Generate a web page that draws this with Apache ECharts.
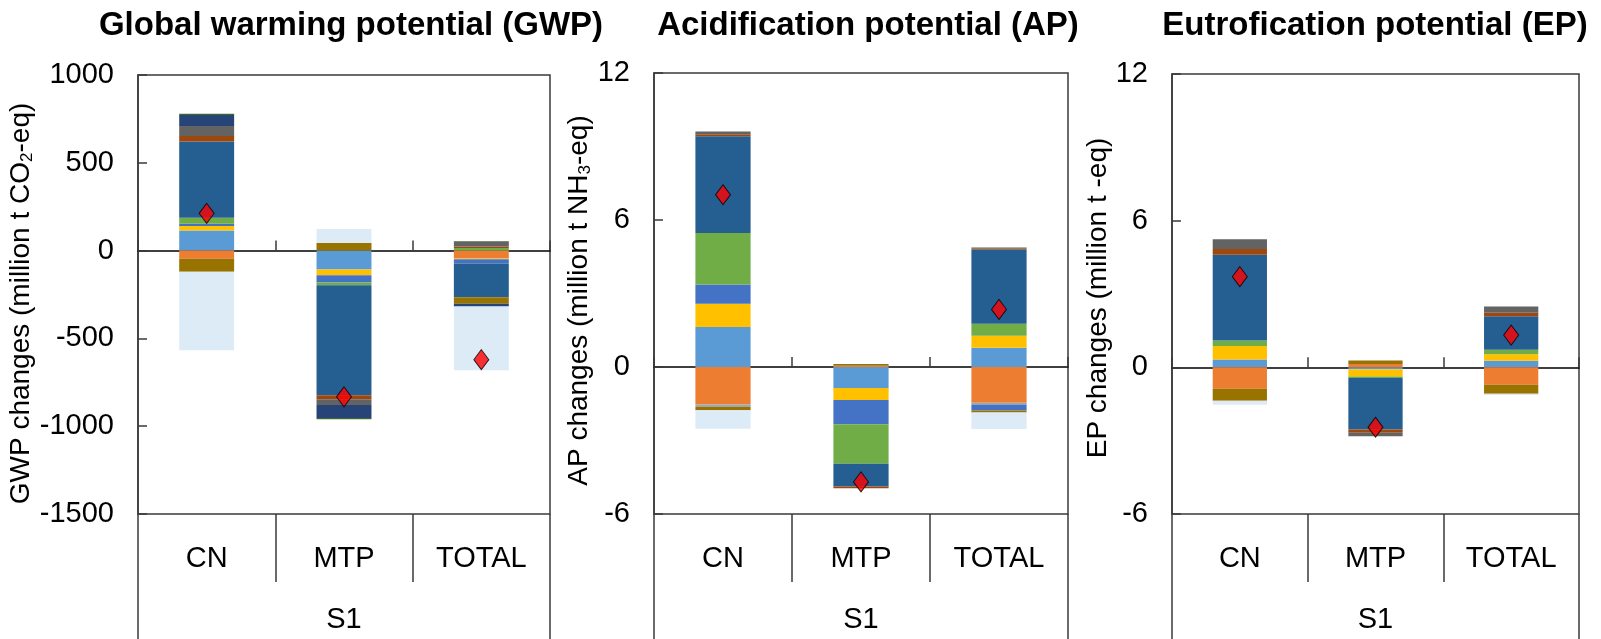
<!DOCTYPE html>
<html>
<head>
<meta charset="utf-8">
<script src="https://cdn.jsdelivr.net/npm/echarts@6/dist/echarts.min.js"></script>
<style>
  html, body { margin: 0; padding: 0; background: #fff; }
  #chart { width: 1601px; height: 639px; }
</style>
</head>
<body>
<div id="chart"></div>
<script>
// Categories and group label along the bottom axis
const categories = ['CN', 'MTP', 'TOTAL'];
const groupLabels = ['S1'];

// Component colours, in stacking order
const componentColors = [
  '#5B9BD5', '#ED7D31', '#A5A5A5', '#FFC000', '#4472C4', '#70AD47',
  '#255E91', '#9E480E', '#636363', '#997300', '#264478', '#43682B', '#DDEBF7'
];

// Global warming potential components (million t CO2-eq), [CN, MTP, TOTAL]
const gwpParts = [
  [114, -108, 0],
  [-47, 0, -45],
  [0, 0, 0],
  [26, -32, -4],
  [13, -42, -25],
  [34, -15, 15],
  [434, -627, -191],
  [32, -23, 9],
  [57, -32, 28],
  [-74, 43, -38],
  [62, -74, -15],
  [8, -8, 3],
  [-447, 80, -364]
];
const gwpNet = [212, -833, -621];

// Acidification potential components (million t NH3-eq)
const apParts = [
  [1.63, -0.86, 0.79],
  [-1.52, 0.05, -1.46],
  [-0.11, 0, -0.07],
  [0.95, -0.49, 0.49],
  [0.79, -0.99, -0.25],
  [2.10, -1.61, 0.49],
  [3.95, -0.93, 3.02],
  [0.08, -0.07, 0.04],
  [0.11, 0, 0.05],
  [-0.14, 0.07, -0.08],
  [0, 0, 0],
  [0, 0, 0],
  [-0.75, 0, -0.67]
];
const apNet = [7.03, -4.69, 2.35];

// Eutrofication potential components (million t -eq)
const epParts = [
  [0.32, -0.08, 0.27],
  [-0.88, 0.14, -0.71],
  [0, 0, 0],
  [0.55, -0.29, 0.27],
  [0, 0, 0],
  [0.23, -0.07, 0.18],
  [3.51, -2.10, 1.37],
  [0.23, -0.14, 0.14],
  [0.40, -0.14, 0.26],
  [-0.49, 0.14, -0.37],
  [0, 0, 0],
  [0, 0, 0],
  [-0.16, 0, -0.05]
];
const epNet = [3.71, -2.45, 1.32];

// Value axis ranges and tick steps
const gwpAxis = { min: -1500, max: 1000, interval: 500 };
const apAxis = { min: -6, max: 12, interval: 6 };
const epAxis = { min: -6, max: 12, interval: 6 };

const FONT = 'Liberation Sans, Arial, sans-serif';
const LINE = '#3a3a3a';

const panels = [
  {
    title: 'Global warming potential (GWP)',
    yName: 'GWP changes (million t CO{sub|2}-eq)',
    parts: gwpParts, net: gwpNet, axis: gwpAxis,
    grid: { left: 138, top: 75, width: 412, height: 439 },
    titleX: 346, nameGap: 91, namePad: [0, 18, 0, 0]
  },
  {
    title: 'Acidification potential (AP)',
    yName: 'AP changes (million t NH{sub|3}-eq)',
    parts: apParts, net: apNet, axis: apAxis,
    grid: { left: 654, top: 73, width: 414, height: 441 },
    titleX: 863, nameGap: 58, namePad: [0, 14, 0, 0]
  },
  {
    title: 'Eutrofication potential (EP)',
    yName: 'EP changes (million t -eq)',
    parts: epParts, net: epNet, axis: epAxis,
    grid: { left: 1172, top: 74, width: 407, height: 440 },
    titleX: 1370, nameGap: 59, namePad: [0, 8, 0, 0]
  }
];

const option = {
  animation: false,
  backgroundColor: '#fff',
  title: [], grid: [], xAxis: [], yAxis: [], series: []
};

panels.forEach((p, i) => {
  option.title.push({
    text: p.title,
    left: p.titleX, top: 4, textAlign: 'center',
    textStyle: { fontFamily: FONT, fontWeight: 'bold', fontSize: 33, color: '#000' }
  });
  option.grid.push(Object.assign({
    show: true, borderColor: LINE, borderWidth: 1.5, backgroundColor: 'transparent',
    containLabel: false, outerBoundsMode: 'none'
  }, p.grid));

  // axis through zero with short upward tick marks between categories
  option.xAxis.push({
    type: 'category', gridIndex: i, data: categories, position: 'bottom',
    axisLine: { onZero: true, lineStyle: { color: '#000', width: 1.5 } },
    axisTick: { show: true, inside: true, length: 10, interval: 0, lineStyle: { color: LINE, width: 1.5 } },
    axisLabel: { show: false }, splitLine: { show: false }
  });
  // category labels under the plot, separated by dividers
  option.xAxis.push({
    type: 'category', gridIndex: i, data: categories, position: 'bottom', offset: 0,
    axisLine: { show: false, onZero: false },
    axisTick: { show: true, inside: false, length: 68, interval: 0, lineStyle: { color: LINE, width: 1.5 } },
    axisLabel: { show: true, interval: 0, margin: 30, fontFamily: FONT, fontSize: 29, color: '#000' },
    splitLine: { show: false }
  });
  // scenario group label
  option.xAxis.push({
    type: 'category', gridIndex: i, data: groupLabels, position: 'bottom', offset: 0,
    axisLine: { show: false, onZero: false },
    axisTick: { show: true, inside: false, length: 130, interval: 0, lineStyle: { color: LINE, width: 1.5 } },
    axisLabel: { show: true, interval: 0, margin: 91, fontFamily: FONT, fontSize: 29, color: '#000' },
    splitLine: { show: false }
  });

  option.yAxis.push({
    type: 'value', gridIndex: i,
    min: p.axis.min, max: p.axis.max, interval: p.axis.interval,
    name: p.yName, nameLocation: 'middle', nameGap: p.nameGap, nameRotate: 90,
    nameTextStyle: {
      fontFamily: FONT, fontSize: 28, color: '#000', padding: p.namePad,
      rich: { sub: { fontFamily: FONT, fontSize: 17, color: '#000', padding: [12, 0, 0, 0] } }
    },
    axisLine: { show: true, lineStyle: { color: LINE, width: 1.5 } },
    axisTick: { show: true, inside: true, length: 9, lineStyle: { color: LINE, width: 1.5 } },
    axisLabel: {
      margin: 24, fontFamily: FONT, fontSize: 29, color: '#000',
      formatter: (v) => String(v)
    },
    splitLine: { show: false }
  });

  p.parts.forEach((vals, k) => {
    option.series.push({
      type: 'bar', xAxisIndex: i * 3, yAxisIndex: i, stack: 'panel' + i,
      barWidth: '40%', data: vals,
      itemStyle: { color: componentColors[k] },
      emphasis: { disabled: true }
    });
  });
  option.series.push({
    type: 'scatter', xAxisIndex: i * 3, yAxisIndex: i, data: p.net,
    symbol: 'diamond', symbolSize: [15, 20], z: 5,
    itemStyle: { color: '#FF0000', borderColor: '#000', borderWidth: 1 }
  });
});

const chart = echarts.init(document.getElementById('chart'), null, { renderer: 'canvas' });
chart.setOption(option);
</script>
</body>
</html>
